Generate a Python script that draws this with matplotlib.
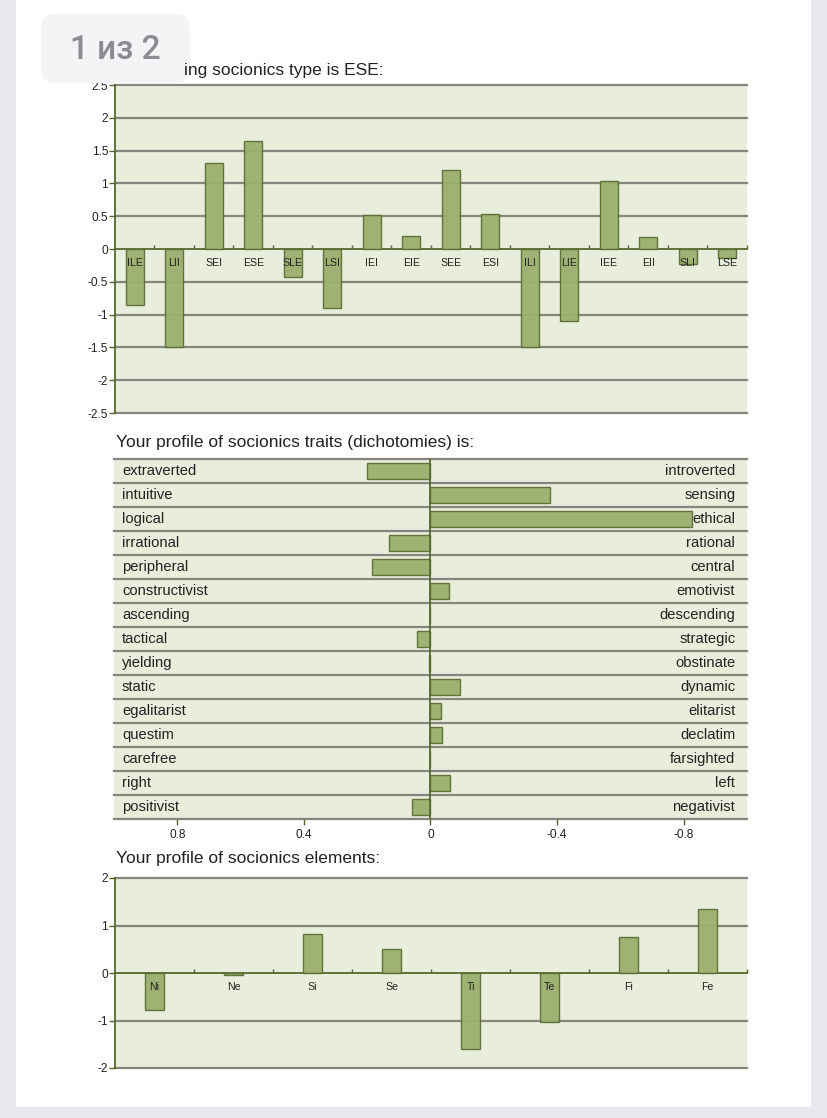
import matplotlib
matplotlib.use("Agg")
import matplotlib.pyplot as plt
from matplotlib.patches import Rectangle, FancyBboxPatch

plt.rcParams['font.family'] = ['Liberation Sans', 'DejaVu Sans']

# data for the three charts
types = ["ILE", "LII", "SEI", "ESE", "SLE", "LSI", "IEI", "EIE",
         "SEE", "ESI", "ILI", "LIE", "IEE", "EII", "SLI", "LSE"]
type_scores = [-0.85, -1.49, 1.31, 1.65, -0.43, -0.90, 0.52, 0.20,
               1.20, 0.53, -1.50, -1.09, 1.04, 0.19, -0.23, -0.14]

left_traits = ["extraverted", "intuitive", "logical", "irrational", "peripheral",
               "constructivist", "ascending", "tactical", "yielding", "static",
               "egalitarist", "questim", "carefree", "right", "positivist"]
right_traits = ["introverted", "sensing", "ethical", "rational", "central",
                "emotivist", "descending", "strategic", "obstinate", "dynamic",
                "elitarist", "declatim", "farsighted", "left", "negativist"]
trait_scores = [0.20, -0.378, -0.827, 0.13, 0.185, -0.058, 0.001, 0.043,
                0.005, -0.093, -0.033, -0.037, 0.0, -0.062, 0.060]
trait_ticks = [0.8, 0.4, 0, -0.4, -0.8]
trait_ticklabels = ["0.8", "0.4", "0", "-0.4", "-0.8"]

elements = ["Ni", "Ne", "Si", "Se", "Ti", "Te", "Fi", "Fe"]
element_scores = [-0.78, -0.04, 0.815, 0.51, -1.61, -1.04, 0.75, 1.34]

W, H = 828, 1118
BG = "#e9eddc"
BAR = "#9caf6e"
EDGE = "#5b6e34"
GRID = "#86867e"
AXIS = "#56672f"
TXT = "#222222"

fig = plt.figure(figsize=(W / 100, H / 100), dpi=100, facecolor="white")


def add_ax(x0, y0, x1, y1):
    # pixel box (top-left origin) -> figure axes
    return fig.add_axes([x0 / W, 1 - y1 / H, (x1 - x0) / W, (y1 - y0) / H])


def fig_text(x, y, s, **kw):
    fig.text(x / W, 1 - y / H, s, **kw)


def column_chart(ax, labels, values, ylim, step, width, label_off, fmt):
    n = len(labels)
    ax.set_facecolor(BG)
    ax.set_xlim(-0.5, n - 0.5)
    ax.set_ylim(-ylim, ylim)
    yt = []
    v = -ylim
    while v <= ylim + 1e-9:
        yt.append(round(v, 2))
        v += step
    for y in yt:
        if abs(y) > 1e-9:
            ax.axhline(y, color=GRID, lw=1.6, zorder=1, clip_on=False)
    ax.bar(range(n), values, width=width, color=BAR, edgecolor=EDGE,
           linewidth=1.0, zorder=3, alpha=0.95)
    for i, lab in enumerate(labels):
        ax.text(i, -label_off, lab, ha="center", va="center", fontsize=7.6,
                color=TXT, zorder=4)
    for s in ["top", "right"]:
        ax.spines[s].set_visible(False)
    ax.spines["bottom"].set_position(("data", 0))
    ax.spines["bottom"].set_color(AXIS)
    ax.spines["bottom"].set_linewidth(1.3)
    ax.spines["bottom"].set_zorder(2)
    ax.spines["left"].set_color(AXIS)
    ax.spines["left"].set_linewidth(1.3)
    ax.set_xticks([i + 0.5 for i in range(n)])
    ax.set_xticklabels([])
    ax.tick_params(axis="x", direction="in", length=3, color=AXIS, width=1)
    ax.set_yticks(yt)
    ax.set_yticklabels([fmt(y) for y in yt])
    ax.tick_params(axis="y", direction="out", length=4, color=AXIS, width=1,
                   labelsize=8.6, pad=1, labelcolor=TXT)


def fmt_half(y):
    if abs(y) < 1e-9:
        return "0"
    return ("%g" % y)


# page frame (viewer background)
bg = fig.add_axes([0, 0, 1, 1], zorder=-5)
bg.set_xlim(0, W)
bg.set_ylim(H, 0)
bg.axis("off")
bg.add_patch(Rectangle((0, 0), 16, H, color="#e8e8ed", lw=0))
bg.add_patch(Rectangle((811, 0), W - 811, H, color="#e8e8ed", lw=0))
bg.add_patch(Rectangle((0, 1107), W, H - 1107, color="#e8e8ed", lw=0))

# chart 1: type match
ax1 = add_ax(115, 85, 747, 413)
column_chart(ax1, types, type_scores, 2.5, 0.5, 0.46, 0.21, fmt_half)

# chart 2: dichotomies
ax2 = add_ax(114, 459, 747, 819)
ax2.set_facecolor(BG)
n = len(left_traits)
ax2.set_xlim(1, -1)
ax2.set_ylim(n - 0.5, -0.5)
ax2.barh(range(n), trait_scores, height=0.7, color=BAR, edgecolor=EDGE,
         linewidth=1.0, zorder=3, alpha=0.95)
for k in range(n + 1):
    ax2.axhline(k - 0.5, color=GRID, lw=1.6, zorder=1, clip_on=False)
ax2.axvline(0, color=AXIS, lw=1.3, zorder=4)
for i in range(n):
    ax2.text(0.975, i, left_traits[i], ha="left", va="center", fontsize=10.6,
             color=TXT, zorder=5)
    ax2.text(-0.963, i, right_traits[i], ha="right", va="center", fontsize=10.6,
             color=TXT, zorder=5)
for s in ["top", "right", "left", "bottom"]:
    ax2.spines[s].set_visible(False)
ax2.set_yticks([])
ax2.set_xticks(trait_ticks)
ax2.set_xticklabels(trait_ticklabels)
ax2.tick_params(axis="x", direction="out", length=4, color=AXIS, width=1,
                labelsize=8.6, pad=3, labelcolor=TXT)
fig_text(116, 442, "Your profile of socionics traits (dichotomies) is:",
         fontsize=12.5, color=TXT, ha="left", va="center")

# chart 3: elements
ax3 = add_ax(115, 878, 747, 1068)
column_chart(ax3, elements, element_scores, 2, 1, 0.24, 0.3, fmt_half)
fig_text(116, 858, "Your profile of socionics elements:", fontsize=12.5,
         color=TXT, ha="left", va="center")

# page counter overlay from the viewer
ov = fig.add_axes([0, 0, 1, 1], zorder=10)
ov.set_xlim(0, W)
ov.set_ylim(H, 0)
ov.axis("off")
ov.patch.set_alpha(0)
ov.add_patch(FancyBboxPatch((41, 14), 149, 69,
                            boxstyle="round,pad=0,rounding_size=14",
                            facecolor="#f4f4f6", edgecolor="none"))
ov.text(115, 50, "1 из 2", fontsize=24, color="#8b8b90", ha="center",
        va="center", family=["Roboto", "DejaVu Sans"], fontweight="medium")
# visible tail of the first chart title, drawn over the counter edge
ov.text(184, 70, "ing socionics type is ESE:", fontsize=12.5, color=TXT,
        ha="left", va="center")

fig.savefig("out.png", dpi=100, facecolor="white")
